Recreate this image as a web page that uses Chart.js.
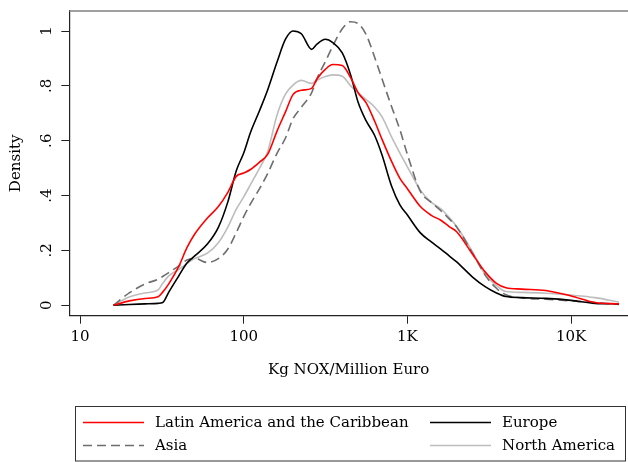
<!DOCTYPE html>
<html>
<head>
<meta charset="utf-8">
<script src="https://cdn.jsdelivr.net/npm/chart.js@4/dist/chart.umd.min.js"></script>
<style>
  html, body { margin: 0; padding: 0; background: #fff; }
  #wrap { width: 628px; height: 462px; }
</style>
</head>
<body>
<div id="wrap"><canvas id="density" width="628" height="462"></canvas></div>
<script>
// Kg NOX per million euro (x, log scale)
const xValues = [16, 20, 25, 30, 32, 35, 40, 45, 50, 60, 70, 80, 90, 100, 110, 125, 140, 160, 180, 200,
    225, 260, 280, 315, 350, 400, 450, 500, 560, 630, 700, 800, 900, 1000, 1200, 1400, 1600, 1800, 2000,
    2500, 3000, 3500, 4000, 5000, 7000, 10000, 14000, 19600];

const latinAmerica = [0, 0.016, 0.025, 0.031, 0.048, 0.08, 0.14, 0.21, 0.258, 0.318, 0.36, 0.412, 0.47, 0.482,
    0.495, 0.522, 0.55, 0.636, 0.705, 0.768, 0.784, 0.791, 0.825, 0.86, 0.878, 0.874, 0.83, 0.775, 0.738,
    0.672, 0.605, 0.525, 0.463, 0.425, 0.36, 0.328, 0.31, 0.287, 0.268, 0.186, 0.12, 0.08, 0.064, 0.059,
    0.054, 0.034, 0.01, 0.005];

const europe = [0, 0.003, 0.005, 0.007, 0.01, 0.05, 0.106, 0.154, 0.179, 0.223, 0.284, 0.377, 0.49, 0.555,
    0.63, 0.71, 0.785, 0.888, 0.97, 1.0, 0.99, 0.933, 0.952, 0.97, 0.958, 0.92, 0.84, 0.74, 0.672, 0.62,
    0.548, 0.435, 0.366, 0.329, 0.264, 0.231, 0.205, 0.18, 0.158, 0.103, 0.067, 0.045, 0.032, 0.028, 0.025,
    0.018, 0.007, 0.005];

const asia = [0, 0.045, 0.078, 0.095, 0.105, 0.12, 0.143, 0.165, 0.171, 0.156, 0.17, 0.205, 0.265, 0.323,
    0.37, 0.425, 0.48, 0.555, 0.61, 0.68, 0.722, 0.775, 0.826, 0.888, 0.945, 1.008, 1.034, 1.027, 0.987,
    0.905, 0.825, 0.725, 0.64, 0.55, 0.415, 0.375, 0.345, 0.315, 0.285, 0.19, 0.108, 0.062, 0.038, 0.027,
    0.022, 0.016, 0.01, 0.003];

const northAmerica = [0, 0.03, 0.045, 0.056, 0.08, 0.108, 0.13, 0.152, 0.17, 0.19, 0.228, 0.285, 0.35, 0.395,
    0.44, 0.5, 0.56, 0.695, 0.77, 0.803, 0.82, 0.809, 0.82, 0.834, 0.84, 0.835, 0.8, 0.775, 0.75, 0.723,
    0.687, 0.614, 0.555, 0.505, 0.42, 0.375, 0.352, 0.32, 0.287, 0.195, 0.11, 0.072, 0.05, 0.047, 0.044,
    0.037, 0.028, 0.012];

const xTicks = [10, 100, 1000, 10000];
const yTicks = [0, 0.2, 0.4, 0.6, 0.8, 1];

const FONT = '"DejaVu Serif", "Liberation Serif", serif';
const FONT_SIZE = 15;

function toPoints(ys) {
    return ys.map((y, i) => ({ x: xValues[i], y: y }));
}

function fmtX(v) {
    return v >= 1000 ? (v / 1000) + 'K' : String(v);
}

function fmtY(v) {
    if (v === 0) return '0';
    if (v === 1) return '1';
    return v.toFixed(1).replace(/^0/, '');
}

// rotated y labels, top frame line and the boxed two-column legend
const stataExtras = {
    id: 'stataExtras',
    afterDraw(chart) {
        const ctx = chart.ctx;
        const area = chart.chartArea;
        const yScale = chart.scales.y;

        ctx.save();
        ctx.strokeStyle = '#808080';
        ctx.lineWidth = 1.5;
        ctx.beginPath();
        ctx.moveTo(area.left, area.top);
        ctx.lineTo(chart.width, area.top);
        ctx.stroke();

        ctx.fillStyle = '#000';
        ctx.font = FONT_SIZE + 'px ' + FONT;
        ctx.textAlign = 'center';
        ctx.textBaseline = 'middle';
        yTicks.forEach(v => {
            const py = yScale.getPixelForValue(v);
            ctx.save();
            ctx.translate(47, py);
            ctx.rotate(-Math.PI / 2);
            ctx.fillText(fmtY(v), 0, 0);
            ctx.restore();
        });

        // legend
        ctx.strokeStyle = '#333';
        ctx.lineWidth = 1;
        ctx.strokeRect(75.5, 406.5, 550, 54.5);

        const cols = [83, 430];
        const rows = [422.5, 445.5];
        ctx.textAlign = 'left';
        chart.data.datasets.forEach((ds, k) => {
            const cx = cols[k % 2];
            const cy = rows[Math.floor(k / 2)];
            ctx.save();
            ctx.strokeStyle = ds.borderColor;
            ctx.lineWidth = ds.borderWidth;
            ctx.setLineDash(ds.borderDash || []);
            ctx.beginPath();
            ctx.moveTo(cx, cy);
            ctx.lineTo(cx + 61, cy);
            ctx.stroke();
            ctx.restore();
            ctx.fillText(ds.label, cx + 72, cy + 1);
        });
        ctx.restore();
    }
};

const ctx = document.getElementById('density').getContext('2d');
new Chart(ctx, {
    type: 'line',
    data: {
        datasets: [
            {
                label: 'Latin America and the Caribbean',
                data: toPoints(latinAmerica),
                borderColor: '#ff0000',
                borderWidth: 1.6,
            },
            {
                label: 'Europe',
                data: toPoints(europe),
                borderColor: '#000000',
                borderWidth: 1.6,
            },
            {
                label: 'Asia',
                data: toPoints(asia),
                borderColor: '#6e6e6e',
                borderWidth: 1.6,
                borderDash: [9, 5],
            },
            {
                label: 'North America',
                data: toPoints(northAmerica),
                borderColor: '#bdbdbd',
                borderWidth: 1.6,
            },
        ],
    },
    options: {
        responsive: false,
        animation: false,
        elements: {
            point: { radius: 0 },
            line: { cubicInterpolationMode: 'monotone' },
        },
        layout: {
            padding: { left: 0, right: 0, top: 11, bottom: 77 },
        },
        plugins: {
            legend: { display: false },
            tooltip: { enabled: false },
        },
        scales: {
            x: {
                type: 'logarithmic',
                min: 8.602,
                max: 22265,
                afterBuildTicks: scale => {
                    scale.ticks = xTicks.map(v => ({ value: v }));
                },
                afterFit: scale => { scale.height = 69.3; },
                ticks: {
                    autoSkip: false,
                    maxRotation: 0,
                    color: '#000',
                    padding: 4,
                    font: { family: FONT, size: FONT_SIZE },
                    callback: v => fmtX(v),
                },
                grid: {
                    display: true,
                    drawOnChartArea: false,
                    drawTicks: true,
                    tickLength: 8,
                    color: '#222',
                },
                border: { display: true, color: '#222', width: 1.2 },
                title: {
                    display: true,
                    text: 'Kg NOX/Million Euro',
                    color: '#000',
                    font: { family: FONT, size: FONT_SIZE },
                    padding: { top: 0, bottom: 6 },
                },
            },
            y: {
                min: -0.038,
                max: 1.073,
                afterBuildTicks: scale => {
                    scale.ticks = yTicks.map(v => ({ value: v }));
                },
                afterFit: scale => { scale.width = 69.3; },
                ticks: { display: false },
                grid: {
                    display: true,
                    drawOnChartArea: false,
                    drawTicks: true,
                    tickLength: 8,
                    color: '#222',
                },
                border: { display: true, color: '#222', width: 1.2 },
                title: {
                    display: true,
                    text: 'Density',
                    color: '#000',
                    font: { family: FONT, size: FONT_SIZE },
                    padding: { top: 7, bottom: 0 },
                },
            },
        },
    },
    plugins: [stataExtras],
});
</script>
</body>
</html>
